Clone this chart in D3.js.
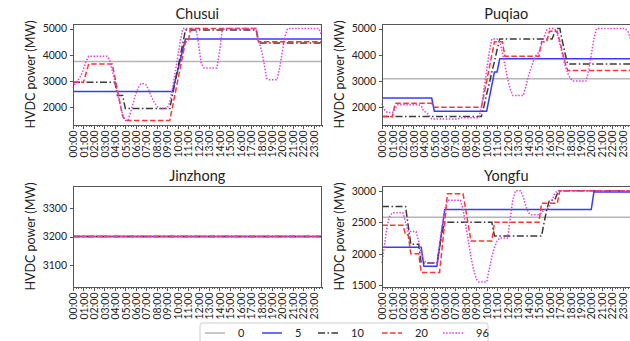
<!DOCTYPE html>
<meta charset="utf-8">
<style>
body { margin: 0; background: #fff; }
svg text { font-family: Lato, "Open Sans", sans-serif; fill: #222; }
.axis path, .axis line { fill: none; stroke: #555; shape-rendering: crispEdges; }
.axis text { font-size: 10.5px; }
.frame { fill: none; stroke: #555; shape-rendering: crispEdges; }
.title { font-size: 14.5px; text-anchor: middle; }
.ylabel { font-size: 12.5px; text-anchor: middle; }
.legend text { font-size: 11px; }
.line { fill: none; stroke-width: 1.5; }
</style>
<svg class="chart" width="630" height="341"></svg>
<script src="https://d3js.org/d3.v7.min.js"></script>
<script>

// hourly tick labels (data are at 15 min steps, 96 points)
var hourLabels = ["00:00","01:00","02:00","03:00","04:00","05:00","06:00","07:00",
  "08:00","09:00","10:00","11:00","12:00","13:00","14:00","15:00",
  "16:00","17:00","18:00","19:00","20:00","21:00","22:00","23:00"];

var stations = ["Chusui", "Puqiao", "Jinzhong", "Yongfu"];
var seriesNames = ["0", "5", "10", "20", "96"];

// series "0" is flat for each station
var level0 = [3750, 3090, 3200, 2580];
var jinzhongLevel = 3200;

var yDomains = [[1325, 5175], [1325, 5175], [3024, 3376], [1470, 3075]];
var yTicks = [[2000, 3000, 4000, 5000], [2000, 3000, 4000, 5000], [3100, 3200, 3300], [1500, 2000, 2500, 3000]];

var chusui5 = [
  2600,2600,2600,2600,2600,2600,2600,2600, 2600,2600,2600,2600,2600,2600,2600,2600,
  2600,2600,2600,2600,2600,2600,2600,2600, 2600,2600,2600,2600,2600,2600,2600,2600,
  2600,2600,2600,2600,2600,2600,2600,3000, 3400,3800,4200,4600,4600,4600,4600,4600,
  4600,4600,4600,4600,4600,4600,4600,4600, 4600,4600,4600,4600,4600,4600,4600,4600,
  4600,4600,4600,4600,4600,4600,4600,4600, 4600,4600,4600,4600,4600,4600,4600,4600,
  4600,4600,4600,4600,4600,4600,4600,4600, 4600,4600,4600,4600,4600,4600,4600,4600];
var chusui10 = [
  2950,2950,2950,2950,2950,2950,2950,2950, 2950,2950,2950,2950,2950,2950,2950,2950,
  2950,2450,2450,2450,1950,1950,1950,1950, 1950,1950,1950,1950,1950,1950,1950,1950,
  1950,1950,1950,1950,1950,1950,2450,2950, 3450,3950,4450,4950,4950,4950,4950,4950,
  4950,4950,4950,4950,4950,4950,4950,4950, 4950,4950,4950,4950,4950,4950,4950,4950,
  4950,4950,4950,4950,4950,4950,4950,4450, 4450,4450,4450,4450,4450,4450,4450,4450,
  4450,4450,4450,4450,4450,4450,4450,4450, 4450,4450,4450,4450,4450,4450,4450,4450];
var chusui20 = [
  2950,2950,2950,2950,2950,3300,3650,3650, 3650,3650,3650,3650,3650,3650,3650,3650,
  3150,2650,2150,1650,1500,1500,1500,1500, 1500,1500,1500,1500,1500,1500,1500,1500,
  1500,1500,1500,1500,1500,1500,2000,2500, 3000,3500,4000,4500,4500,5000,5000,5000,
  5000,5000,5000,5000,5000,5000,5000,5000, 5000,5000,5000,5000,5000,5000,5000,5000,
  5000,5000,5000,5000,5000,5000,5000,4500, 4500,4500,4500,4500,4500,4500,4500,4500,
  4500,4500,4500,4500,4500,4500,4500,4500, 4500,4500,4500,4500,4500,4500,4500,4500];
var chusui96 = [
  2750,2950,3050,3200,3450,3750,3950,3950, 3950,3950,3950,3950,3950,3950,3800,3400,
  3000,2550,2100,1700,1500,1500,1800,2150, 2500,2750,2900,2900,2850,2650,2400,2200,
  2050,1950,1950,1950,1950,2200,2700,3300, 3900,4500,5000,5000,5000,5000,5000,5000,
  4400,3700,3500,3500,3500,3500,3500,3500, 4100,4900,5000,5000,5000,5000,5000,5000,
  5000,5000,5000,5000,5000,5000,5000,4500, 4200,3700,3100,3050,3050,3050,3050,3500,
  4100,4700,5000,5000,5000,5000,5000,5000, 5000,5000,5000,5000,5000,5000,5000,4750];

var puqiao5 = [
  2350,2350,2350,2350,2350,2350,2350,2350, 2350,2350,2350,2350,2350,2350,2350,2350,
  2350,2350,2350,2350,1850,1850,1850,1850, 1850,1850,1850,1850,1850,1850,1850,1850,
  1850,1850,1850,1850,1850,1850,1850,1850, 1850,2350,2850,3350,3350,3850,3850,3850,
  3850,3850,3850,3850,3850,3850,3850,3850, 3850,3850,3850,3850,3850,3850,3850,3850,
  3850,3850,3850,3850,3850,3850,3850,3850, 3850,3850,3850,3850,3850,3850,3850,3850,
  3850,3850,3850,3850,3850,3850,3850,3850, 3850,3850,3850,3850,3850,3850,3850,3850];
var puqiao10 = [
  1650,1650,1650,1650,1650,1650,1650,1650, 1650,1650,1650,1650,1650,1650,1650,1650,
  1650,1650,1650,1650,1650,1650,1650,1650, 1650,1650,1650,1650,1650,1650,1650,1650,
  1650,1650,1650,1650,1650,1650,1650,2050, 2500,2900,3350,3750,4200,4600,4600,4600,
  4600,4600,4600,4600,4600,4600,4600,4600, 4600,4600,4600,4600,4600,4600,4600,4600,
  4600,4600,4850,5000,5000,4500,4050,3650, 3650,3650,3650,3650,3650,3650,3650,3650,
  3650,3650,3650,3650,3650,3650,3650,3650, 3650,3650,3650,3650,3650,3650,3650,3650];
var puqiao20 = [
  1650,1650,1650,1650,1650,2150,2150,2150, 2150,2150,2150,2150,2150,2150,2150,2150,
  2150,2150,2150,2150,2000,2000,2000,2000, 2000,2000,2000,2000,2000,2000,2000,2000,
  2000,2000,2000,2000,2000,2000,2000,2500, 3000,3500,4000,4500,4500,4500,4500,3950,
  3950,3950,3950,3950,3950,3950,3950,3950, 3950,3950,3950,3950,3950,4500,4500,4500,
  4900,4900,4900,4900,4500,4100,3700,3400, 3400,3400,3400,3400,3400,3400,3400,3400,
  3400,3400,3400,3400,3400,3400,3400,3400, 3400,3400,3400,3400,3400,3400,3400,3400];
var puqiao96 = [
  2150,1900,1800,1800,1800,1950,2100,2100, 2100,2100,2100,2100,2100,2100,2100,2050,
  1850,1800,1700,1550,1550,1550,1550,1550, 1550,1550,1550,1550,1550,1550,1600,1600,
  1600,1600,1600,1600,1600,1600,2000,2700, 3400,4100,4600,4600,4600,4500,4100,3600,
  3100,2700,2450,2450,2450,2450,2450,2800, 3200,3500,3800,4000,4100,4400,4700,4950,
  5000,5000,5000,4800,4400,4000,3600,3300, 3100,3000,3000,3000,3000,3000,3000,3400,
  4000,4600,5000,5000,5000,5000,5000,5000, 5000,5000,5000,5000,5000,5000,4900,4600];

var yongfu5 = [
  2100,2100,2100,2100,2100,2100,2100,2100, 2100,2100,2100,2100,2100,2100,2100,2100,
  1800,1800,1800,1800,1800,1800,2100,2400, 2700,2700,2700,2700,2700,2700,2700,2700,
  2700,2700,2700,2700,2700,2700,2700,2700, 2700,2700,2700,2700,2700,2700,2700,2700,
  2700,2700,2700,2700,2700,2700,2700,2700, 2700,2700,2700,2700,2700,2700,2700,2700,
  2700,2700,2700,2700,2700,2700,2700,2700, 2700,2700,2700,2700,2700,2700,2700,2700,
  2700,2980,2980,2980,2980,2980,2980,2980, 2980,2980,2980,2980,2980,2980,2980,2980];
var yongfu10 = [
  2750,2750,2750,2750,2750,2750,2750,2750, 2750,2750,2450,2150,2150,2150,2150,1850,
  1850,1850,1850,1850,1850,1850,2100,2350, 2500,2500,2500,2500,2500,2500,2500,2500,
  2500,2500,2500,2500,2500,2500,2500,2500, 2500,2500,2500,2280,2280,2280,2280,2280,
  2280,2280,2280,2280,2280,2280,2280,2280, 2280,2280,2280,2280,2280,2280,2500,2700,
  2850,2850,2850,2950,3000,3000,3000,3000, 3000,3000,3000,3000,3000,3000,3000,3000,
  3000,3000,3000,3000,3000,3000,3000,3000, 3000,3000,3000,3000,3000,3000,3000,3000];
var yongfu20 = [
  2450,2450,2450,2450,2450,2450,2450,2450, 2450,2300,2300,2000,2000,2000,2000,1700,
  1700,1700,1700,1700,1700,1700,1700,2100, 2500,2950,2950,2950,2950,2950,2950,2950,
  2700,2450,2200,2200,2200,2200,2200,2200, 2200,2200,2200,2500,2500,2500,2500,2500,
  2500,2500,2500,2500,2500,2500,2500,2500, 2500,2500,2500,2500,2500,2800,2800,2800,
  2800,2800,2800,2800,3000,3000,3000,3000, 3000,3000,3000,3000,3000,3000,3000,3000,
  3000,3000,3000,3000,3000,3000,3000,3000, 3000,3000,3000,3000,3000,3000,3000,3000];
var yongfu96 = [
  1850,2150,2450,2600,2650,2650,2650,2650, 2650,2500,2350,2350,2350,2350,2200,2000,
  1900,1850,1850,1850,1850,1850,2150,2450, 2700,2850,2850,2850,2850,2850,2850,2700,
  2450,2200,1950,1750,1600,1550,1550,1550, 1550,1750,1950,2100,2200,2250,2250,2250,
  2250,2550,2850,3000,3000,3000,2900,2750, 2650,2620,2620,2620,2620,2650,2700,2700,
  2750,2850,2950,3000,3000,3000,3000,3000, 3000,3000,3000,3000,3000,3000,3000,3000,
  3000,3000,3000,3000,3000,3000,3000,3000, 3000,3000,3000,3000,3000,3000,3000,3000];

var flat = function(v){ return chusui5.map(function(){ return v; }); };
var stationSeries = [
  [chusui5, chusui10, chusui20, chusui96],
  [puqiao5, puqiao10, puqiao20, puqiao96],
  [flat(jinzhongLevel), flat(jinzhongLevel), flat(jinzhongLevel), flat(jinzhongLevel)],
  [yongfu5, yongfu10, yongfu20, yongfu96]
];

var colors = ["#b4b4b4", "#3a3aff", "#3a3a3a", "#ff3636", "#e040e0"];
var dashes = [null, null, "7,2.5,1.5,2.5", "5.5,2.5", "1.5,1.6"];

var panelW = 248.5, panelH = 101;
var panels = [{x: 73, y: 24}, {x: 382, y: 24}, {x: 73, y: 186}, {x: 382, y: 186}];

var svg = d3.select(".chart");
var x = d3.scaleLinear().domain([0, 95]).range([0, panelW]);

stations.forEach(function(name, s){
	var p = panels[s];
	var y = d3.scaleLinear().domain(yDomains[s]).range([panelH, 0]);
	var g = svg.append("g").attr("transform", "translate(" + p.x + "," + p.y + ")");

	// minor ticks every 15 min
	g.append("g")
		.attr("class", "axis")
		.attr("transform", "translate(0," + panelH + ")")
		.call(d3.axisBottom(x).tickValues(d3.range(96)).tickSize(2).tickFormat(""))
		.select(".domain").remove();

	var xAxis = g.append("g")
		.attr("class", "axis")
		.attr("transform", "translate(0," + panelH + ")")
		.call(d3.axisBottom(x)
			.tickValues(hourLabels.map(function(d, i){ return i * 4; }))
			.tickSize(3.5)
			.tickFormat(function(d){ return hourLabels[d / 4]; }));
	xAxis.select(".domain").remove();
	xAxis.selectAll("text")
		.attr("transform", "rotate(-90)")
		.attr("x", -5.5)
		.attr("y", 0)
		.attr("dy", "0.35em")
		.style("text-anchor", "end");

	var yAxis = g.append("g")
		.attr("class", "axis")
		.call(d3.axisLeft(y).tickValues(yTicks[s]).tickSize(3.5).tickPadding(2.5).tickFormat(d3.format("d")));
	yAxis.select(".domain").remove();

	var line = d3.line()
		.x(function(d, i){ return x(i); })
		.y(function(d){ return y(d); });

	// flat base case
	g.append("line")
		.attr("class", "line")
		.attr("x1", x(0)).attr("x2", x(95))
		.attr("y1", y(level0[s])).attr("y2", y(level0[s]))
		.style("stroke", colors[0]);

	stationSeries[s].forEach(function(vals, k){
		g.append("path")
			.datum(vals)
			.attr("class", "line")
			.attr("d", line)
			.style("stroke", colors[k + 1])
			.style("stroke-dasharray", dashes[k + 1]);
	});

	g.append("rect")
		.attr("class", "frame")
		.attr("width", panelW)
		.attr("height", panelH);

	g.append("text")
		.attr("class", "title")
		.attr("x", panelW / 2)
		.attr("y", -5)
		.text(name);

	g.append("text")
		.attr("class", "ylabel")
		.attr("transform", "rotate(-90)")
		.attr("x", -panelH / 2)
		.attr("y", -38)
		.text("HVDC power (MW)");
});

// legend
var legend = svg.append("g").attr("class", "legend").attr("transform", "translate(200,323)");
legend.append("rect")
	.attr("width", 288).attr("height", 28)
	.attr("rx", 2.5)
	.style("fill", "#fff").style("stroke", "#ccc");
var legendX = [5, 62, 118, 182, 243];
seriesNames.forEach(function(n, k){
	var item = legend.append("g").attr("transform", "translate(" + legendX[k] + ",10)");
	item.append("line")
		.attr("class", "line")
		.attr("x1", 0).attr("x2", 20)
		.style("stroke", colors[k])
		.style("stroke-dasharray", dashes[k]);
	item.append("text")
		.attr("x", 33)
		.attr("dy", "0.35em")
		.text(n);
});
</script>
